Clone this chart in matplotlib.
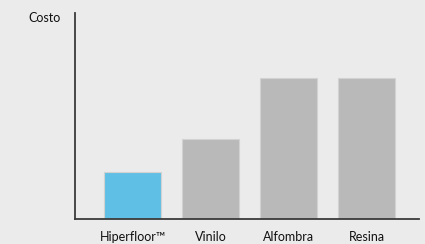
import matplotlib.pyplot as plt

categories = ["Hiperfloor™", "Vinilo", "Alfombra", "Resina"]
costs = [33, 57, 100, 100]
bar_colors = ["#5fbfe5", "#b9b9b9", "#b9b9b9", "#b9b9b9"]

bg = "#ebebeb"
fig = plt.figure(figsize=(4.25, 2.44), dpi=100, facecolor=bg)
ax = fig.add_axes([0.1765, 0.1025, 0.809, 0.844], facecolor=bg)

x = list(range(len(categories)))
ax.bar(x, costs, width=0.74, color=bar_colors, edgecolor="#d2d2d2", linewidth=0.8)

ax.set_xlim(-0.737, 3.67)
ax.set_ylim(0, 146)
ax.set_xticks(x)
ax.set_xticklabels(categories, fontsize=9, family="Lato", color="#111111")
ax.tick_params(axis="x", length=0, pad=9)
ax.set_yticks([])

for side in ["top", "right"]:
    ax.spines[side].set_visible(False)
for side in ["left", "bottom"]:
    ax.spines[side].set_color("#3a3a3a")
    ax.spines[side].set_linewidth(1.3)

fig.text(0.066, 0.925, "Costo", fontsize=9, family="Lato", color="#111111",
         ha="left", va="center")

fig.savefig("out.png", dpi=100, facecolor=bg)
